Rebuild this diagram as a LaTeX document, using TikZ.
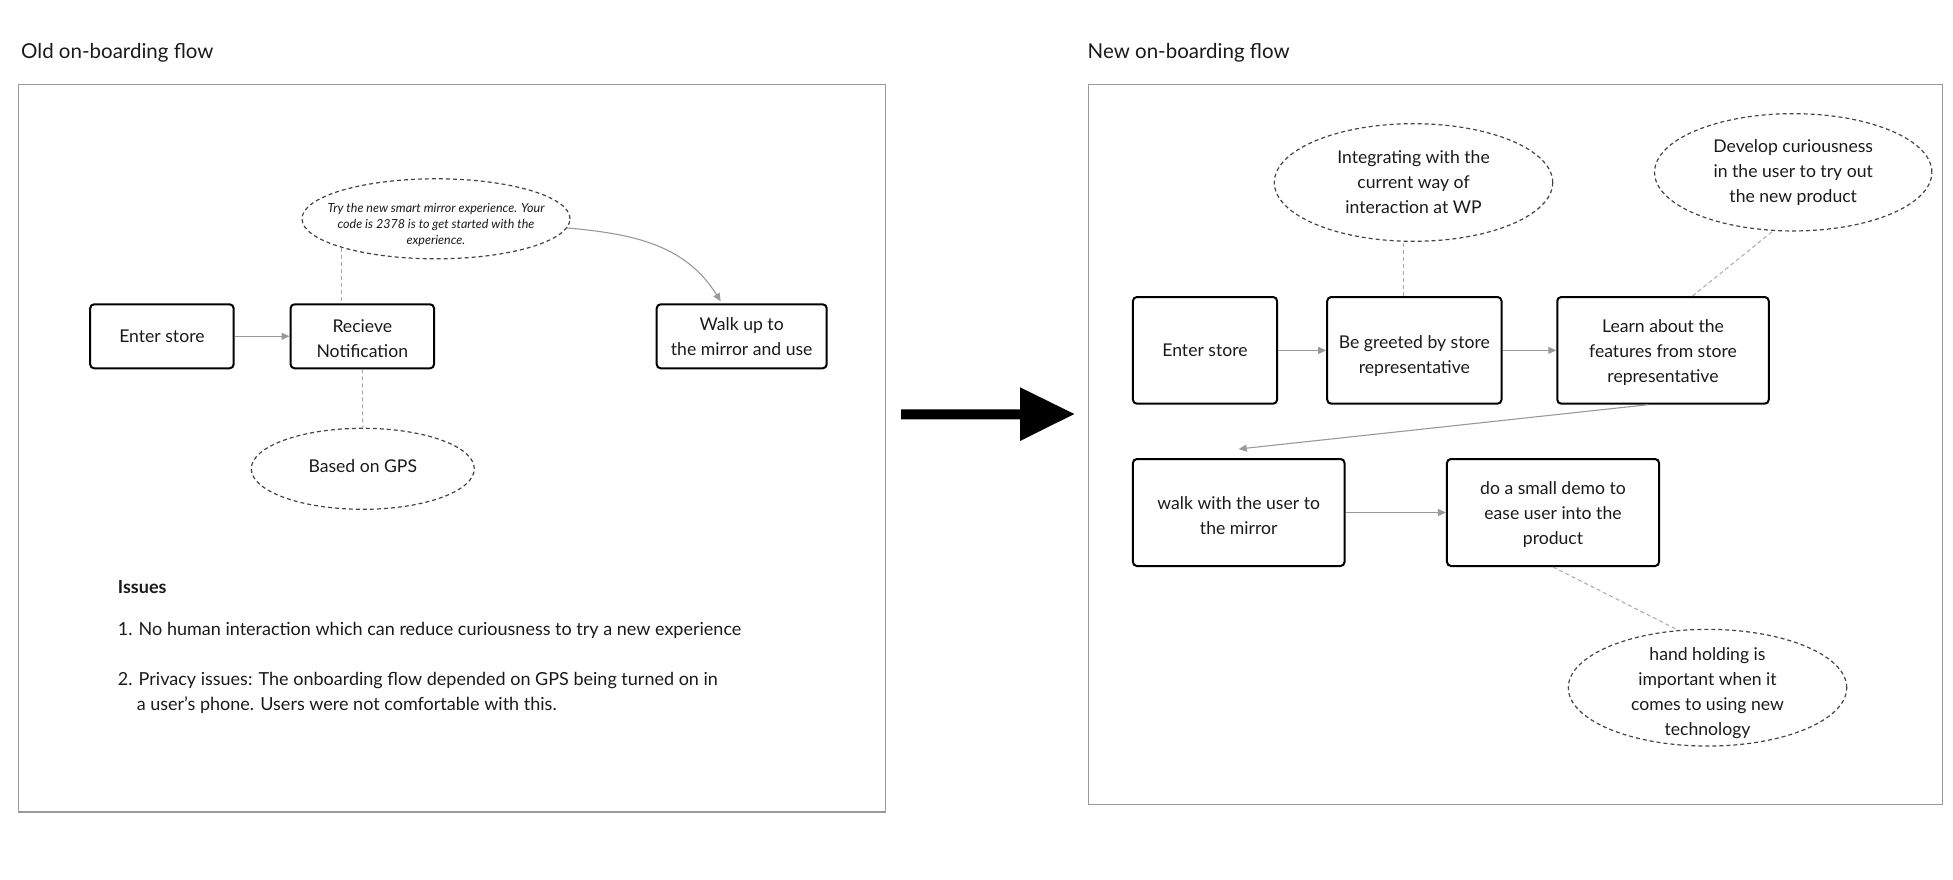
\documentclass[tikz,border=0pt]{standalone}
\usepackage{fontspec}
\setmainfont{Lato}
\usetikzlibrary{arrows.meta,shapes.geometric}

\definecolor{panelgray}{HTML}{9A9A9A}
\definecolor{arrowgray}{HTML}{999999}
\definecolor{linkgray}{HTML}{A8A8A8}
\definecolor{notegray}{HTML}{444444}
\definecolor{inkcol}{HTML}{1A1A1A}

\newcommand\flowtext{\fontsize{17.6}{25}\selectfont}
\newcommand\issuetext{\fontsize{18}{25}\selectfont}
\newcommand\headtext{\fontsize{20.5}{24}\selectfont}
\newcommand\smallnote{\fontsize{12.5}{16}\selectfont\itshape}

\begin{document}
\begin{tikzpicture}[x=1pt,y=-1pt,
  text=inkcol,
  panel/.style={draw=panelgray,line width=1.3pt},
  heading/.style={anchor=west,font=\headtext,inner sep=0pt},
  stepbox/.style={draw=black,line width=2pt,rounded corners=4pt,align=center,
    font=\flowtext,inner sep=0pt},
  note/.style={ellipse,draw=notegray,dash pattern=on 4pt off 3pt,line width=1.2pt,
    align=center,font=\flowtext,inner xsep=-30pt,inner ysep=-16pt},
  caption/.style={align=center,font=\flowtext,inner sep=0pt},
  flow/.style={draw=arrowgray,line width=1.1pt,
    -{Triangle[length=8pt,width=7pt]}},
  link/.style={draw=linkgray,line width=1pt,dash pattern=on 4pt off 3pt},
  issue/.style={anchor=west,font=\issuetext,inner sep=0pt,align=left},
]
\useasboundingbox (0,0) rectangle (1953,879);

% ---------------- old flow ----------------
\node[heading] (oldtitle) at (21,52.5) {Old on-boarding flow};
\draw[panel] (18.7,84.7) rectangle (885.5,812);

\node[stepbox,minimum width=143.5pt,minimum height=64pt] (oldenter) at (161.9,336.3) {Enter store};
\node[stepbox,minimum width=143.5pt,minimum height=64pt] (recv) at (362.3,336.3) {};
\node[caption] (recvtext) at ([yshift=-2pt]recv.center) {Recieve\\Notification};
\node[stepbox,minimum width=170pt,minimum height=64pt] (walk) at (741.7,336.3) {Walk up to\\the mirror and use};

\node[note,minimum width=268pt,minimum height=80pt] (notif) at (436,218.8) {};
\node[caption,font=\smallnote] (notiftext) at ([yshift=-6pt]notif.center)
  {Try the new smart mirror experience. Your\\code is 2378 is to get started with the\\experience.};
\node[note,minimum width=223pt,minimum height=81pt] (gps) at (362.8,468.8) {};
\node[caption] (gpstext) at ([yshift=3pt]gps.center) {Based on GPS};

\draw[flow] (oldenter) -- (recv);
\draw[link] (notif.197) -- (notif.197 |- recv.north);
\draw[link] (recv.south) -- (gps.north);
\draw[flow] (notif.-4) to[out=-5,in=122] ([xshift=-21pt,yshift=2pt]walk.north);

\node[issue,font=\issuetext\bfseries] (issues) at (117.7,587.3) {Issues};
\node[issue] (issue1) at (117.7,630) {1. No human interaction which can reduce curiousness to try a new experience};
\node[issue] (issue2) at (117.7,693)
  {2. Privacy issues: The onboarding flow depended on GPS being turned on in\\
   \hspace*{18.9pt}a user’s phone. Users were not comfortable with this.};

% ---------------- transition arrow ----------------
\fill[black] (901,409.3) -- (1020,409.3) -- (1020,387.3) -- (1074.3,414)
  -- (1020,441) -- (1020,419.3) -- (901,419.3) -- cycle;

% ---------------- new flow ----------------
\node[heading] (newtitle) at (1087.5,52.5) {New on-boarding flow};
\draw[panel] (1088.5,84.5) rectangle (1942.5,804.5);

\node[stepbox,minimum width=144.2pt,minimum height=106.7pt] (nenter) at (1205,350.35) {Enter store};
\node[stepbox,minimum width=174.3pt,minimum height=106.7pt] (greet) at (1414.35,350.35) {};
\node[caption] (greettext) at ([yshift=-6pt]greet.center) {Be greeted by store\\representative};
\node[stepbox,minimum width=211.5pt,minimum height=106.7pt] (learn) at (1663,350.35) {};
\node[caption] (learntext) at ([yshift=-2.5pt]learn.center) {Learn about the\\features from store\\representative};
\node[stepbox,minimum width=211.6pt,minimum height=107pt] (nwalk) at (1238.7,512.5) {};
\node[caption] (nwalktext) at ([yshift=-3.5pt]nwalk.center) {walk with the user to\\the mirror};
\node[stepbox,minimum width=212.1pt,minimum height=107pt] (demo) at (1553,512.5) {};
\node[caption] (demotext) at ([yshift=-2.5pt]demo.center) {do a small demo to\\ease user into the\\product};

\node[note,minimum width=278.4pt,minimum height=117.6pt] (integ) at (1413.5,182.5)
  {Integrating with the\\current way of\\interaction at WP};
\node[note,minimum width=277.3pt,minimum height=117.3pt] (dev) at (1793.2,172.3)
  {Develop curiousness\\in the user to try out\\the new product};
\node[note,minimum width=278.4pt,minimum height=116.7pt] (hand) at (1707.5,687.7) {};
\node[caption] (handtext) at ([yshift=-5.5pt]hand.center)
  {hand holding is\\important when it\\comes to using new\\technology};

\draw[flow] (nenter) -- (greet);
\draw[flow] (greet) -- (learn);
\draw[flow] ([xshift=-15pt]learn.south) -- ([yshift=9pt]nwalk.north);
\draw[flow] (nwalk) -- (demo);

\coordinate (gq) at ([xshift=-11pt]greet.north);
\draw[link] (gq) -- (integ.south -| gq);
\draw[link] ([xshift=29.5pt]learn.north) -- (dev.251);
\draw[link] (demo.south) -- (hand.117);
\end{tikzpicture}
\end{document}
